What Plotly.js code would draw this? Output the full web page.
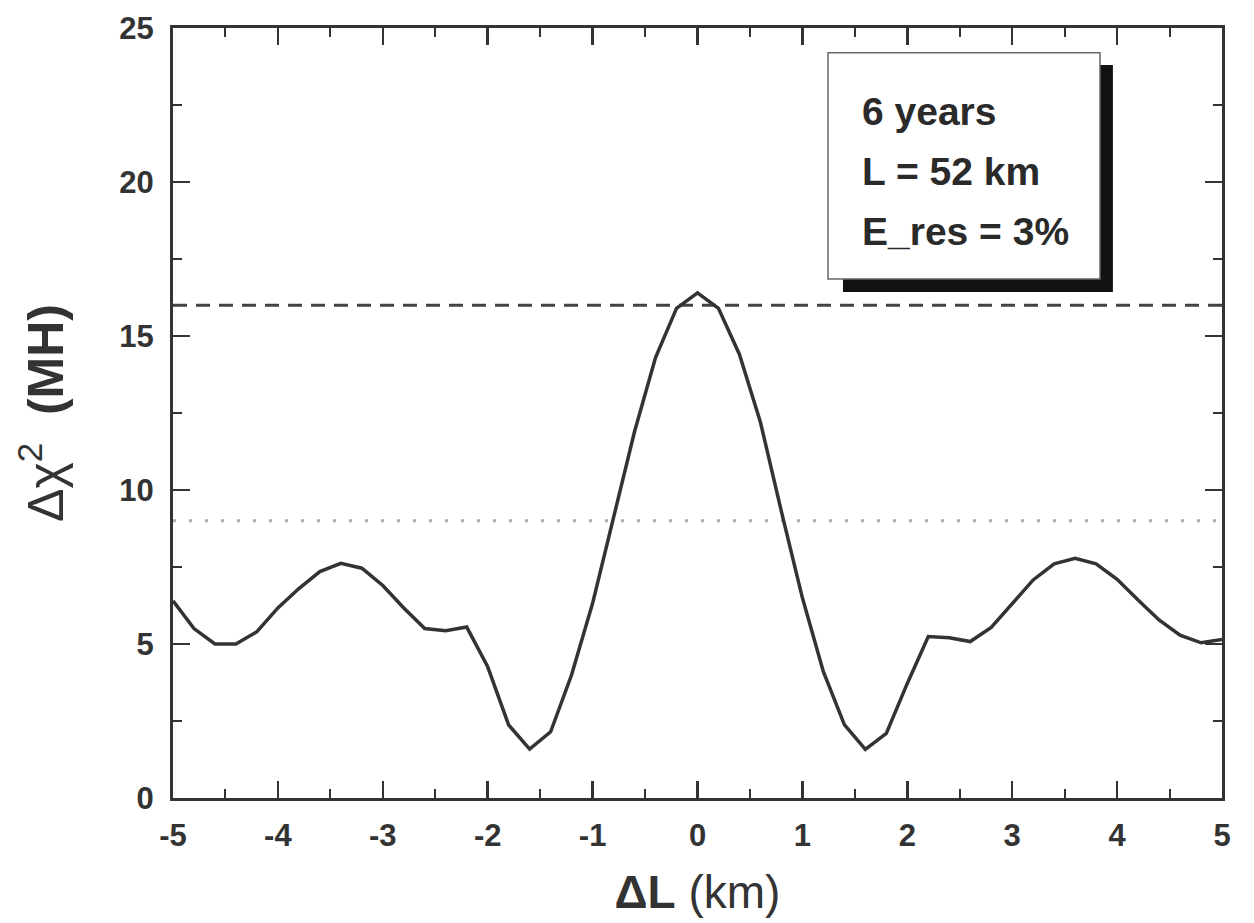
<!DOCTYPE html>
<html>
<head>
<meta charset="utf-8">
<script src="https://cdn.plot.ly/plotly-3.0.1.min.js"></script>
<style>html,body{margin:0;padding:0;background:#fff;}#chart{width:1254px;height:923px;}</style>
</head>
<body>
<div id="chart"></div>
<script>
const deltaL = [-5.0,-4.8,-4.6,-4.4,-4.2,-4.0,-3.8,-3.6,-3.4,-3.2,-3.0,-2.8,-2.6,-2.4,-2.2,-2.0,-1.8,-1.6,-1.4,-1.2,-1.0,-0.8,-0.6,-0.4,-0.2,0.0,0.2,0.4,0.6,0.8,1.0,1.2,1.4,1.6,1.8,2.0,2.2,2.4,2.6,2.8,3.0,3.2,3.4,3.6,3.8,4.0,4.2,4.4,4.6,4.8,5.0];
const deltaChi2 = [6.4,5.5,5.0,5.0,5.4,6.17,6.8,7.35,7.62,7.46,6.9,6.17,5.5,5.43,5.55,4.26,2.37,1.59,2.15,4.0,6.32,9.1,11.9,14.3,15.9,16.4,15.9,14.4,12.2,9.3,6.5,4.1,2.38,1.58,2.1,3.72,5.24,5.2,5.08,5.54,6.32,7.08,7.6,7.78,7.6,7.1,6.43,5.78,5.29,5.04,5.15];
const refX = [-5, 5];
const level4sigma = [16, 16];
const level3sigma = [9, 9];
const xTicks = [-5,-4,-3,-2,-1,0,1,2,3,4,5];
const yTicks = [0,5,10,15,20,25];
const boxLines = ["6 years", "L = 52 km", "E_res = 3%"];

const FONT = "Liberation Sans, Arial, sans-serif";
const axisCommon = {
  showline: true, linecolor: '#333', linewidth: 3, mirror: 'allticks',
  ticks: 'inside', ticklen: 17, tickwidth: 2.5, tickcolor: '#333',
  showgrid: false, zeroline: false,
  tickfont: {family: FONT, size: 31, color: '#333', weight: 'bold'}
};

const traces = [
  {x: refX, y: level4sigma, mode: 'lines', line: {color: '#444', width: 3, dash: '14px,9px'}, hoverinfo: 'skip'},
  {x: refX, y: level3sigma, mode: 'lines', line: {color: '#aaa', width: 3, dash: '3px,13px'}, hoverinfo: 'skip'},
  {x: deltaL, y: deltaChi2, mode: 'lines', line: {color: '#333', width: 3.5}}
];

const layout = {
  width: 1254, height: 923,
  margin: {l: 173, r: 32, t: 28, b: 125},
  paper_bgcolor: '#fff', plot_bgcolor: '#fff',
  showlegend: false,
  xaxis: Object.assign({}, axisCommon, {
    range: [-5, 5], tickvals: xTicks, ticktext: xTicks.map(String),
    minor: {ticks: 'inside', ticklen: 9, tickwidth: 2, tickcolor: '#333', dtick: 0.5},
    ticklabelstandoff: 8,
    title: {text: '<b>ΔL</b> (km)', font: {family: FONT, size: 46, color: '#333'}, standoff: 24}
  }),
  yaxis: Object.assign({}, axisCommon, {
    range: [0, 25], tickvals: yTicks, ticktext: yTicks.map(String),
    minor: {ticks: 'inside', ticklen: 9, tickwidth: 2, tickcolor: '#333', dtick: 2.5},
    ticklabelstandoff: 10,
    title: {text: 'Δχ<sup>2</sup>  <b>(MH)</b>', font: {family: FONT, size: 50, color: '#333'}, standoff: 40}
  }),
  shapes: [
    {type: 'rect', xref: 'paper', yref: 'paper', x0: 0.6387, x1: 0.896, y0: 0.657, y1: 0.952, fillcolor: '#111', line: {width: 0}, layer: 'above'},
    {type: 'rect', xref: 'paper', yref: 'paper', x0: 0.6244, x1: 0.8837, y0: 0.674, y1: 0.968, fillcolor: '#fff', line: {color: '#666', width: 1.5}, layer: 'above'}
  ],
  annotations: boxLines.map((t, i) => ({
    text: '<b>' + t + '</b>', xref: 'paper', yref: 'paper', x: 0.655, y: [0.892, 0.813, 0.736][i],
    xanchor: 'left', yanchor: 'middle', showarrow: false,
    font: {family: FONT, size: 39, color: '#2a2a2a'}
  }))
};

Plotly.newPlot('chart', traces, layout, {staticPlot: true});
</script>
</body>
</html>
